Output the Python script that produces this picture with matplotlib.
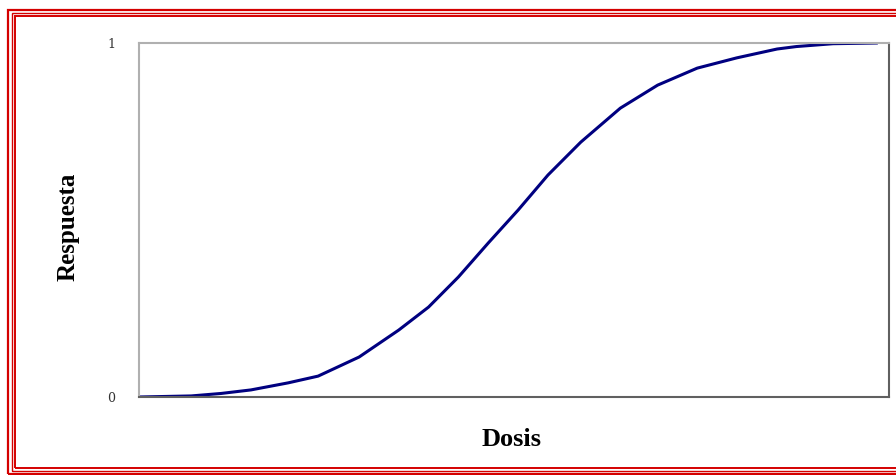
import matplotlib.pyplot as plt
from matplotlib.patches import Rectangle

# Curva dosis-respuesta
dosis = [0, 7, 11, 15, 20, 24, 29.5, 34.8, 38.8, 42.8, 46.8, 50.8, 54.8,
         59.2, 64.5, 69.5, 74.8, 80.1, 85.5, 88.1, 93, 99]
respuesta = [0.0, 0.003, 0.01, 0.02, 0.04, 0.059, 0.113, 0.189, 0.254, 0.339,
             0.435, 0.528, 0.627, 0.72, 0.816, 0.881, 0.929, 0.958, 0.983,
             0.99, 0.998, 1.0]
y_ticks = [0, 1]
y_ticklabels = ["0", "1"]

fig = plt.figure(figsize=(8.96, 4.75), dpi=100)
W, H = 896, 475

# marco rojo triple alrededor de la figura (se corta por la derecha)
for (x0, y0, y1, lw) in [(8, 10, 473.5, 1.6), (11.5, 13, 470.5, 1.0), (14.5, 16, 467.5, 1.4)]:
    fig.add_artist(Rectangle((x0 / W, 1 - y1 / H), 1.2, (y1 - y0) / H,
                             transform=fig.transFigure, fill=False,
                             edgecolor="#d40000", lw=lw))

ax = fig.add_axes([139 / W, 1 - 397 / H, (889 - 139) / W, (397 - 43) / H])
ax.plot(dosis, respuesta, color="#000080", lw=2.2, solid_capstyle="butt")
ax.set_xlim(0, 100.5)
ax.set_ylim(0, 1)
ax.set_xticks([])
ax.set_yticks(y_ticks)
ax.set_yticklabels(y_ticklabels, fontfamily="DejaVu Serif", fontsize=9, color="#333333")
ax.tick_params(axis="y", length=0, pad=17)
for side in ["left", "top"]:
    ax.spines[side].set_color("#b0b0b0")
    ax.spines[side].set_linewidth(1.5)
for side in ["right", "bottom"]:
    ax.spines[side].set_color("#606060")
    ax.spines[side].set_linewidth(1.5)

fig.text(68 / W, 1 - 227 / H, "Respuesta", rotation=90, ha="center", va="center",
         fontfamily="Liberation Serif", fontweight="bold", fontsize=18)
fig.text(512 / W, 1 - 440 / H, "Dosis", ha="center", va="center",
         fontfamily="Liberation Serif", fontweight="bold", fontsize=19)

fig.savefig("out.png", dpi=100)
